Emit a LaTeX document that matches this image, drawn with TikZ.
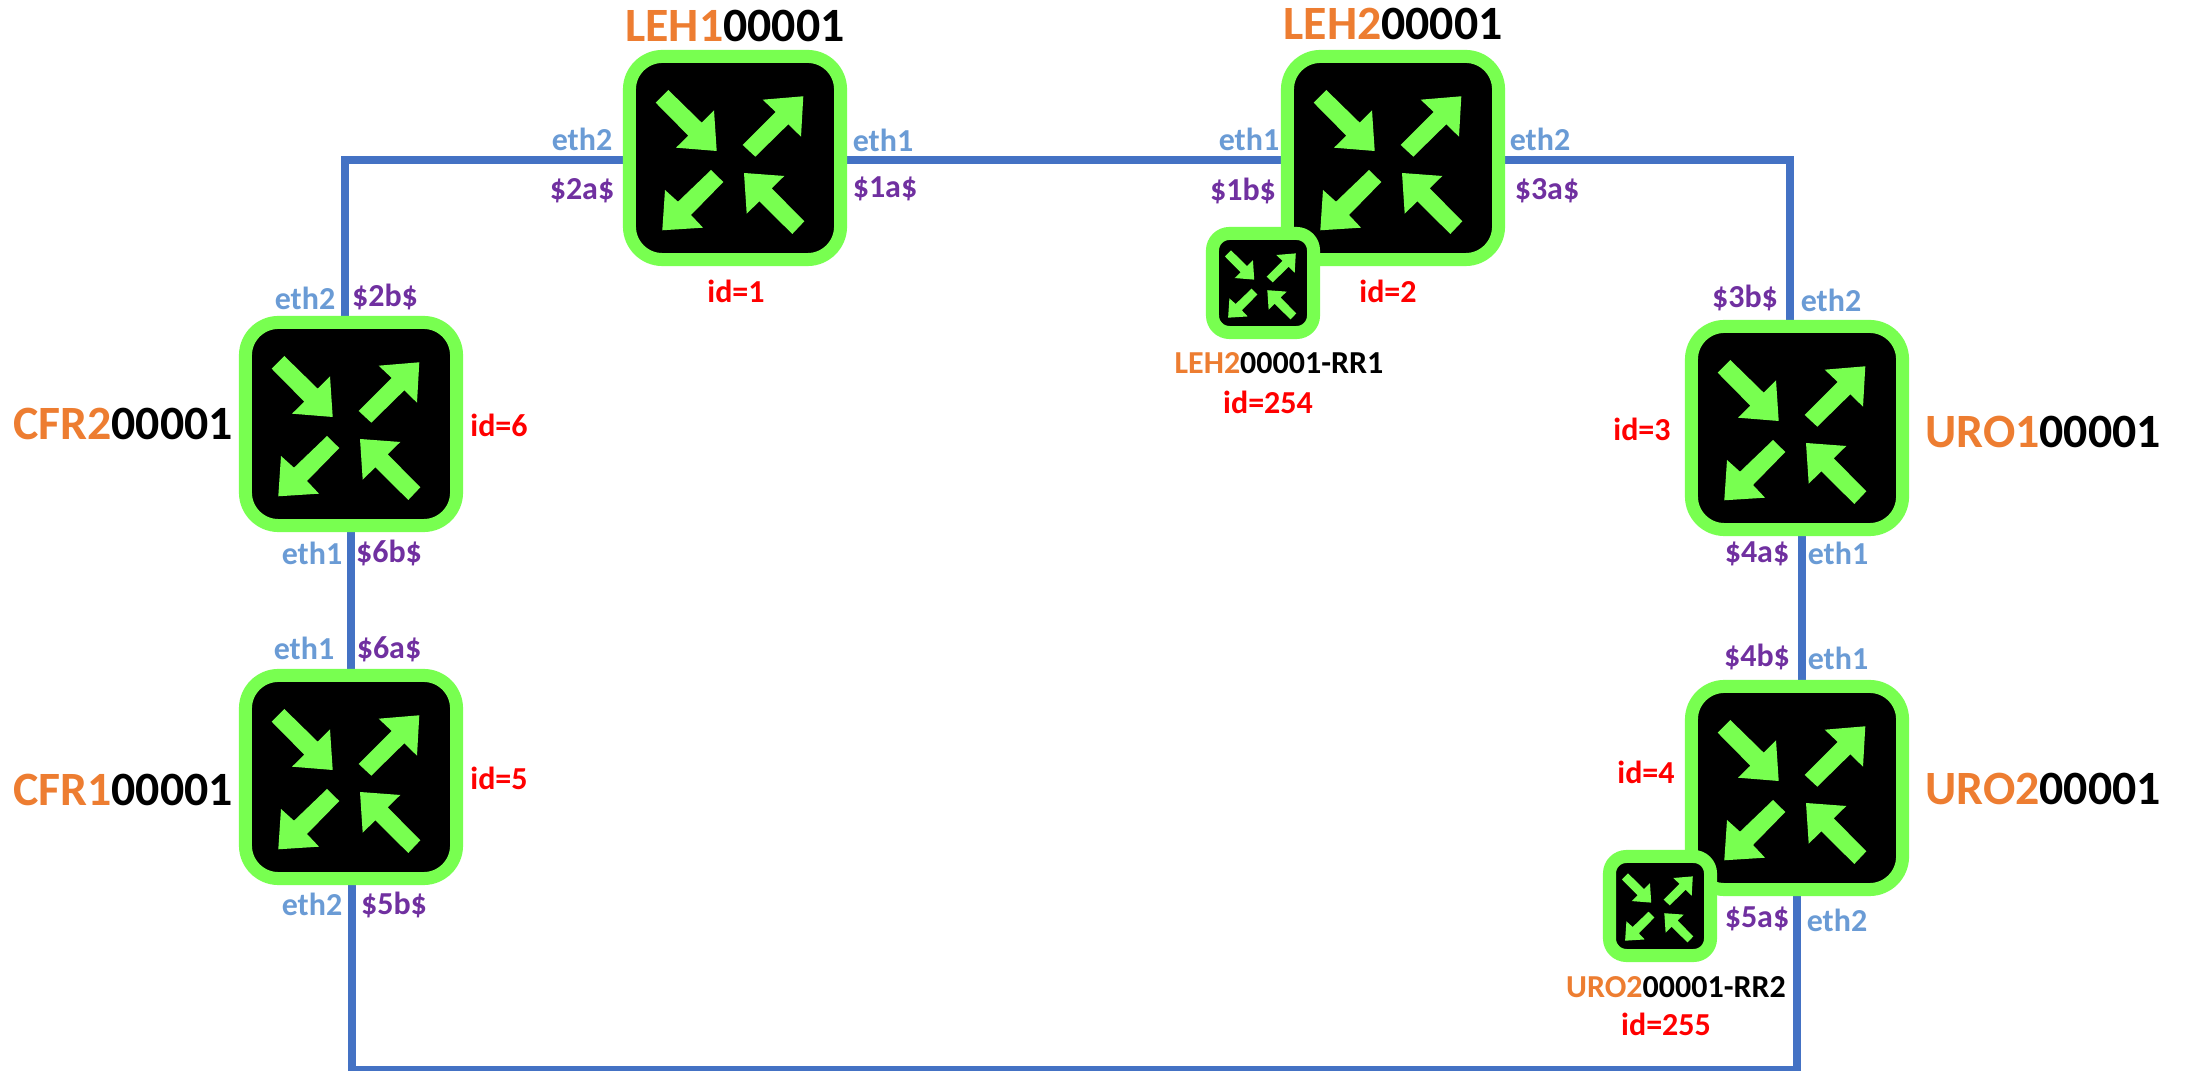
\documentclass[tikz,border=0pt]{standalone}
\usepackage{fontspec}
\setmainfont{Carlito}
\usetikzlibrary{backgrounds}
\definecolor{routergreen}{HTML}{78FF50}
\definecolor{linkblue}{HTML}{4472C4}
\definecolor{ethblue}{HTML}{6A9BD5}
\definecolor{ipurple}{HTML}{7030A0}
\definecolor{hostorange}{HTML}{ED7D31}
\newcommand{\host}[2]{\textcolor{hostorange}{#1}#2}

\tikzset{
  router/.style={rectangle,fill=black,draw=routergreen,line width=3.7pt,inner sep=0pt,outer sep=0pt,
    minimum width=2.11cm,minimum height=2.03cm,rounded corners=0.33cm},
  minirouter/.style={router,minimum width=1.01cm,minimum height=0.99cm,rounded corners=0.17cm},
  link/.style={draw=linkblue,line width=2.25pt},
  bigname/.style={font=\fontsize{13.6}{16}\selectfont\bfseries,inner sep=0pt},
  smallname/.style={font=\fontsize{9.1}{11}\selectfont\bfseries,inner sep=0pt},
  idlabel/.style={smallname,text=red},
  eth/.style={smallname,text=ethblue},
  ip/.style={smallname,text=ipurple},
  pics/arrows4/.style={code={
    \fill[routergreen] (-66.7,-68)--(-79.3,-55.3)--(-46.7,-22.3)--(-59,-10.3)--(-18.3,-7)--(-21,-47.7)--(-33.3,-35.3)--cycle;
    \fill[routergreen] (68.3,-61.7)--(27.7,-58.3)--(40.7,-46)--(7.7,-13)--(20.3,-1.3)--(53.3,-33.7)--(66,-21.3)--cycle;
    \fill[routergreen] (-24,12)--(-11.7,24)--(-44,57)--(-32,69.7)--(-72.7,72.3)--(-70,32)--(-57,43.7)--cycle;
    \fill[routergreen] (9,15)--(49.3,18)--(36.7,30.3)--(69.3,63.3)--(57.3,76)--(24.3,43.3)--(11.7,55.7)--cycle;
  }}
}

\begin{document}
\begin{tikzpicture}[x=0.01cm,y=-0.01cm]
  \useasboundingbox (0,0) rectangle (2185,1071);

  % routers
  \node[router] (LEH1) at (735,158)  {};
  \node[router] (LEH2) at (1393,158) {};
  \node[router] (CFR2) at (351,424)  {};
  \node[router] (CFR1) at (351,777)  {};
  \node[router] (URO1) at (1797,428) {};
  \node[router] (URO2) at (1797,788) {};
  \pic at (LEH1) {arrows4};
  \pic at (LEH2) {arrows4};
  \pic at (CFR2) {arrows4};
  \pic at (CFR1) {arrows4};
  \pic at (URO1) {arrows4};
  \pic at (URO2) {arrows4};

  % route reflectors
  \node[minirouter] (RR1) at (1263,283) {};
  \node[minirouter] (RR2) at (1660,906) {};
  \pic[scale=0.48] at (RR1) {arrows4};
  \pic[scale=0.48] at (RR2) {arrows4};

  % links
  \begin{scope}[on background layer]
    \coordinate (bottomleft)  at (352,1070);
    \coordinate (bottomright) at (1797,1070);
    \path[link] ([xshift=-0.06cm]CFR2.north) |- ([yshift=-0.02cm]LEH1.west);
    \path[link] ([yshift=-0.02cm]LEH1.east) -- ([yshift=-0.02cm]LEH2.west);
    \path[link] ([yshift=-0.02cm]LEH2.east) -| ([xshift=-0.07cm]URO1.north);
    \path[link] (CFR2) -- (CFR1);
    \path[link] ([xshift=0.05cm]URO1.south) -- ([xshift=0.05cm]URO2.north);
    \path[link,line join=miter] ([xshift=0.01cm]CFR1.south) -- (bottomleft) -- (bottomright) -- (URO2.south);
  \end{scope}

  % hostnames
  \node[bigname] (nLEH1) at (735,26)   {\host{LEH1}{00001}};
  \node[bigname] (nLEH2) at (1393,24)  {\host{LEH2}{00001}};
  \node[bigname] (nCFR2) at (123,424)  {\host{CFR2}{00001}};
  \node[bigname] (nCFR1) at (123,790)  {\host{CFR1}{00001}};
  \node[bigname] (nURO1) at (2043,432) {\host{URO1}{00001}};
  \node[bigname] (nURO2) at (2043,789) {\host{URO2}{00001}};
  \node[smallname] (nRR1) at (1279,363) {\host{LEH2}{00001-RR1}};
  \node[smallname] (nRR2) at (1676,987) {\host{URO2}{00001-RR2}};

  % router ids
  \node[idlabel] (id1) at (736,291)    {id=1};
  \node[idlabel] (id2) at (1388,291)   {id=2};
  \node[idlabel] (id3) at (1642,429)   {id=3};
  \node[idlabel] (id4) at (1646,772)   {id=4};
  \node[idlabel] (id5) at (499,778)    {id=5};
  \node[idlabel] (id6) at (499,425)    {id=6};
  \node[idlabel] (id254) at (1268,402) {id=254};
  \node[idlabel] (id255) at (1666,1024) {id=255};

  % interfaces
  \node[eth] (e1) at (582,139)  {eth2};
  \node[eth] (e2) at (883,140)  {eth1};
  \node[eth] (e3) at (1249,139) {eth1};
  \node[eth] (e4) at (1540,139) {eth2};
  \node[eth] (e5) at (305,298)  {eth2};
  \node[eth] (e6) at (312,553)  {eth1};
  \node[eth] (e7) at (304,648)  {eth1};
  \node[eth] (e8) at (312,904)  {eth2};
  \node[eth] (e9) at (1831,300) {eth2};
  \node[eth] (e10) at (1838,553) {eth1};
  \node[eth] (e11) at (1838,658) {eth1};
  \node[eth] (e12) at (1837,920) {eth2};

  % addresses
  \node[ip] (a1) at (582,191)  {\$2a\$};
  \node[ip] (a2) at (885,189)  {\$1a\$};
  \node[ip] (a3) at (1243,191) {\$1b\$};
  \node[ip] (a4) at (1547,191) {\$3a\$};
  \node[ip] (a5) at (385,297)  {\$2b\$};
  \node[ip] (a6) at (389,553)  {\$6b\$};
  \node[ip] (a7) at (389,649)  {\$6a\$};
  \node[ip] (a8) at (394,905)  {\$5b\$};
  \node[ip] (a9) at (1745,298) {\$3b\$};
  \node[ip] (a10) at (1757,554) {\$4a\$};
  \node[ip] (a11) at (1757,657) {\$4b\$};
  \node[ip] (a12) at (1757,919) {\$5a\$};
\end{tikzpicture}
\end{document}
